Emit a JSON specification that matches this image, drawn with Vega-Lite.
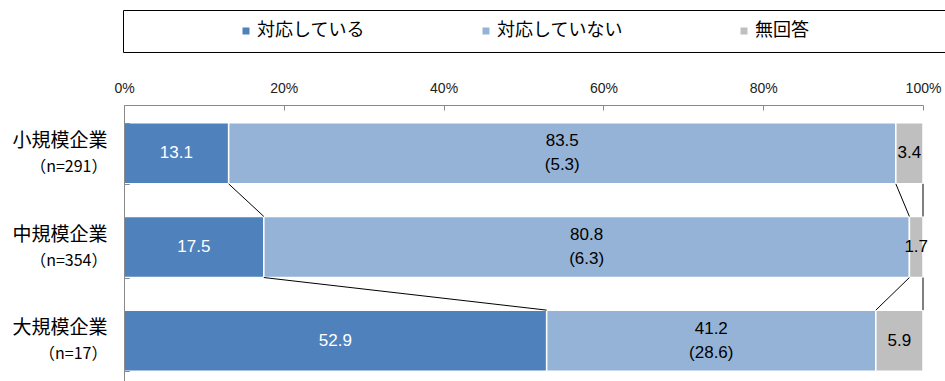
{
  "$schema": "https://vega.github.io/schema/vega-lite/v6.json",
  "width": 799,
  "height": 284,
  "autosize": {"type": "none"},
  "padding": {"left": 124, "top": 105, "right": 22, "bottom": 0},
  "background": "white",
  "config": {"view": {"stroke": null}, "font": "Noto Sans CJK JP"},
  "datasets": {
    "bars": [
      {"cat": "小規模企業|（n=291）", "answer": "対応している", "rank": 1, "value": 13.1, "main": "13.1"},
      {"cat": "小規模企業|（n=291）", "answer": "対応していない", "rank": 2, "value": 83.5, "main": "83.5", "sub": "(5.3)"},
      {"cat": "小規模企業|（n=291）", "answer": "無回答", "rank": 3, "value": 3.4, "main": "3.4"},
      {"cat": "中規模企業|（n=354）", "answer": "対応している", "rank": 1, "value": 17.5, "main": "17.5"},
      {"cat": "中規模企業|（n=354）", "answer": "対応していない", "rank": 2, "value": 80.8, "main": "80.8", "sub": "(6.3)"},
      {"cat": "中規模企業|（n=354）", "answer": "無回答", "rank": 3, "value": 1.7, "main": "1.7"},
      {"cat": "大規模企業|（n=17）", "answer": "対応している", "rank": 1, "value": 52.9, "main": "52.9"},
      {"cat": "大規模企業|（n=17）", "answer": "対応していない", "rank": 2, "value": 41.2, "main": "41.2", "sub": "(28.6)"},
      {"cat": "大規模企業|（n=17）", "answer": "無回答", "rank": 3, "value": 5.9, "main": "5.9"}
    ],
    "lines": [
      {"from": "小規模企業|（n=291）", "to": "中規模企業|（n=354）", "x1": 13.1, "x2": 17.5},
      {"from": "小規模企業|（n=291）", "to": "中規模企業|（n=354）", "x1": 96.6, "x2": 98.3},
      {"from": "小規模企業|（n=291）", "to": "中規模企業|（n=354）", "x1": 100, "x2": 100},
      {"from": "中規模企業|（n=354）", "to": "大規模企業|（n=17）", "x1": 17.5, "x2": 52.9},
      {"from": "中規模企業|（n=354）", "to": "大規模企業|（n=17）", "x1": 98.3, "x2": 94.1},
      {"from": "中規模企業|（n=354）", "to": "大規模企業|（n=17）", "x1": 100, "x2": 100}
    ]
  },
  "resolve": {"axis": {"y": "independent"}},
  "layer": [
    {
      "data": {"name": "bars"},
      "mark": {"type": "bar", "stroke": "white", "strokeWidth": 1.5},
      "encoding": {
        "y": {
          "field": "cat", "type": "nominal",
          "scale": {"domain": ["小規模企業|（n=291）", "中規模企業|（n=354）", "大規模企業|（n=17）"], "paddingInner": 0.348, "paddingOuter": 0.19},
          "axis": {"orient": "left", "title": null, "labelExpr": "split(datum.label,'|')[0]", "labelFont": "Noto Sans CJK JP", "labelFontSize": 19, "labelColor": "#000", "labelOffset": -13, "labelPadding": 22, "tickSize": -5, "tickBand": "extent", "domainColor": "#898989", "tickColor": "#898989", "zindex": 1}
        },
        "x": {
          "field": "value", "type": "quantitative", "stack": "zero",
          "scale": {"domain": [0, 100], "nice": false},
          "axis": {"orient": "top", "title": null, "values": [0, 20, 40, 60, 80, 100], "labelExpr": "datum.value + '%'", "labelFont": "Liberation Sans", "labelFontSize": 14, "labelColor": "#222", "labelPadding": 15, "tickSize": -5, "domainColor": "#898989", "tickColor": "#898989", "grid": false, "labelFlush": false, "zindex": 1}
        },
        "color": {
          "field": "answer", "type": "nominal",
          "scale": {"domain": ["対応している", "対応していない", "無回答"], "range": ["#4F81BD", "#95B3D7", "#BFBFBF"]},
          "legend": {"orient": "none", "legendX": -1, "legendY": -95, "direction": "horizontal", "title": "\u00a0", "titleOrient": "right", "titlePadding": 135, "strokeColor": "#000", "padding": 12, "symbolType": "square", "symbolSize": 49, "symbolOffset": 102, "labelOffset": 2, "columnPadding": 10, "labelFont": "Noto Sans CJK JP", "labelFontSize": 18, "labelColor": "#000", "symbolStrokeWidth": 0}
        },
        "order": {"field": "rank", "type": "quantitative"}
      }
    },
    {
      "data": {"name": "bars"},
      "mark": {"type": "text", "font": "Liberation Sans", "fontSize": 17, "baseline": "middle", "align": "center"},
      "encoding": {
        "y": {
          "field": "cat", "type": "nominal",
          "axis": {"orient": "left", "title": null, "labelExpr": "split(datum.label,'|')[1]", "labelFont": "Noto Sans CJK JP", "labelFontSize": 16, "labelColor": "#000", "labelOffset": 13, "labelPadding": 22, "tickSize": -5, "tickBand": "extent", "domain": false, "tickColor": "#898989", "zindex": 1}
        },
        "x": {
          "field": "value", "type": "quantitative", "stack": "zero", "bandPosition": 0.5,
          "axis": {"orient": "top", "title": null, "values": [0, 20, 40, 60, 80, 100], "labelExpr": "datum.value + '%'", "labelFont": "Liberation Sans", "labelFontSize": 14, "labelColor": "#222", "labelPadding": 15, "tickSize": -5, "domainColor": "#898989", "tickColor": "#898989", "grid": false, "labelFlush": false, "zindex": 1}
        },
        "detail": {"field": "answer", "type": "nominal"},
        "order": {"field": "rank", "type": "quantitative"},
        "text": {"condition": {"test": "isValid(datum.sub)", "value": ""}, "field": "main", "type": "nominal"},
        "color": {"condition": {"test": "datum.answer == '対応している'", "value": "white"}, "value": "black"}
      }
    },
    {
      "data": {"name": "bars"},
      "mark": {"type": "text", "font": "Liberation Sans", "fontSize": 17, "baseline": "middle", "align": "center", "dy": -12, "color": "black"},
      "encoding": {
        "y": {"field": "cat", "type": "nominal", "axis": null},
        "x": {
          "field": "value", "type": "quantitative", "stack": "zero", "bandPosition": 0.5,
          "axis": {"orient": "top", "title": null, "values": [0, 20, 40, 60, 80, 100], "labelExpr": "datum.value + '%'", "labelFont": "Liberation Sans", "labelFontSize": 14, "labelColor": "#222", "labelPadding": 15, "tickSize": -5, "domainColor": "#898989", "tickColor": "#898989", "grid": false, "labelFlush": false, "zindex": 1}
        },
        "detail": {"field": "answer", "type": "nominal"},
        "order": {"field": "rank", "type": "quantitative"},
        "text": {"condition": {"test": "!isValid(datum.sub)", "value": ""}, "field": "main", "type": "nominal"}
      }
    },
    {
      "data": {"name": "bars"},
      "mark": {"type": "text", "font": "Liberation Sans", "fontSize": 17, "baseline": "middle", "align": "center", "dy": 12, "color": "black"},
      "encoding": {
        "y": {"field": "cat", "type": "nominal", "axis": null},
        "x": {
          "field": "value", "type": "quantitative", "stack": "zero", "bandPosition": 0.5,
          "axis": {"orient": "top", "title": null, "values": [0, 20, 40, 60, 80, 100], "labelExpr": "datum.value + '%'", "labelFont": "Liberation Sans", "labelFontSize": 14, "labelColor": "#222", "labelPadding": 15, "tickSize": -5, "domainColor": "#898989", "tickColor": "#898989", "grid": false, "labelFlush": false, "zindex": 1}
        },
        "detail": {"field": "answer", "type": "nominal"},
        "order": {"field": "rank", "type": "quantitative"},
        "text": {"condition": {"test": "!isValid(datum.sub)", "value": ""}, "field": "sub", "type": "nominal"}
      }
    },
    {
      "data": {"name": "lines"},
      "mark": {"type": "rule", "color": "black", "strokeWidth": 1},
      "encoding": {
        "y": {"field": "from", "type": "nominal", "bandPosition": 1, "axis": null},
        "y2": {"field": "to", "bandPosition": 0},
        "x": {
          "field": "x1", "type": "quantitative",
          "axis": {"orient": "top", "title": null, "values": [0, 20, 40, 60, 80, 100], "labelExpr": "datum.value + '%'", "labelFont": "Liberation Sans", "labelFontSize": 14, "labelColor": "#222", "labelPadding": 15, "tickSize": -5, "domainColor": "#898989", "tickColor": "#898989", "grid": false, "labelFlush": false, "zindex": 1}
        },
        "x2": {"field": "x2"}
      }
    }
  ]
}
